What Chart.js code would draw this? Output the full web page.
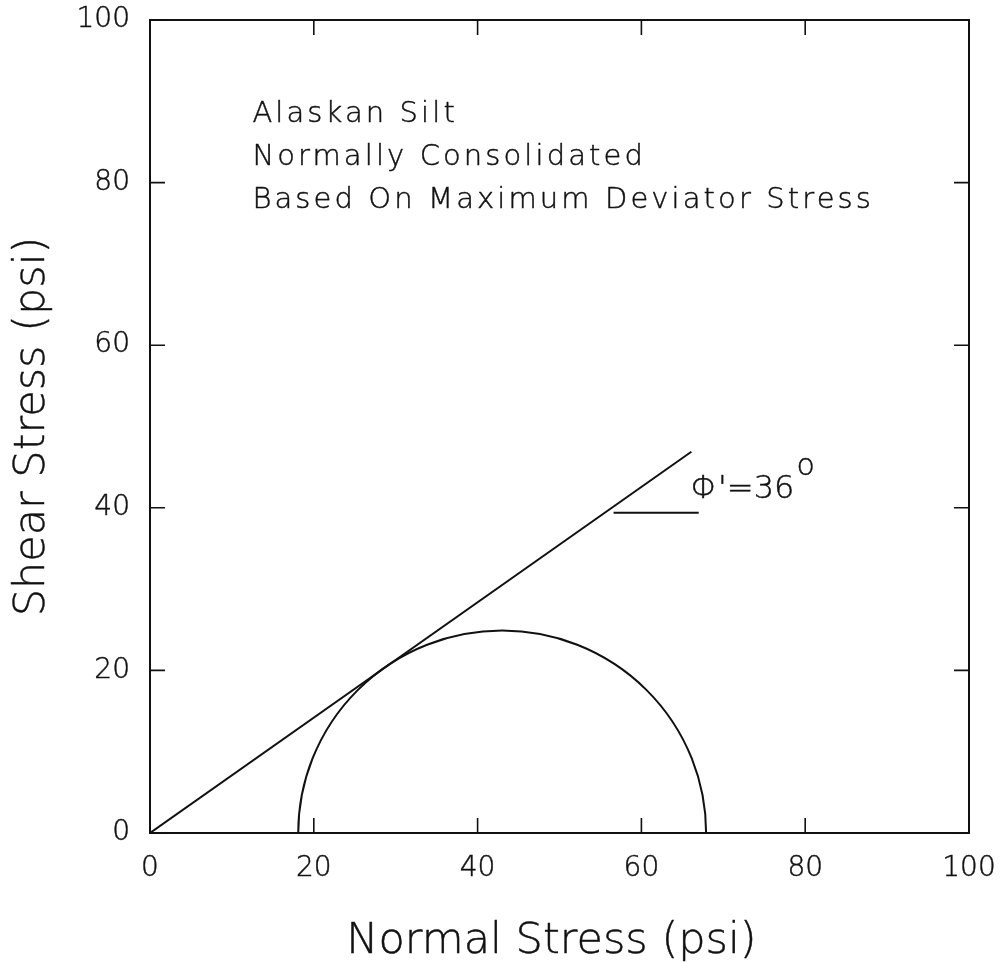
<!DOCTYPE html>
<html>
<head>
<meta charset="utf-8">
<script src="https://cdn.jsdelivr.net/npm/chart.js@4.4.1/dist/chart.umd.min.js"></script>
<style>
  html, body { margin: 0; padding: 0; background: #ffffff; }
  #wrap { width: 1005px; height: 962px; }
</style>
</head>
<body>
<div id="wrap"><canvas id="c" width="1005" height="962"></canvas></div>
<script>
// Mohr-Coulomb failure envelope, Alaskan silt (normally consolidated)
const xTicks = [0, 20, 40, 60, 80, 100];
const yTicks = [0, 20, 40, 60, 80, 100];

// effective stresses at maximum deviator stress (psi)
const sigma3 = 18.1;
const sigma1 = 67.9;

// failure envelope through the origin, drawn to its end point
const envelopeX = [0, 66.1];
const envelopeY = [0, 46.9];

// horizontal reference for the friction angle
const angleMarkX = [56.6, 67.0];
const angleMarkY = [39.4, 39.4];

const notes = ['Alaskan Silt', 'Normally Consolidated', 'Based On Maximum Deviator Stress'];
const noteX = 12.5;
const noteY = [87.5, 82.2, 76.9];

const angleLabel = "\u03A6'=36";
const angleLabelPos = [66.0, 41.2];

const xTitle = 'Normal Stress (psi)';
const yTitle = 'Shear Stress (psi)';

const FONT = '"DejaVu Sans", "Liberation Sans", sans-serif';
const INK = '#111111';
const TEXT_STROKE = 0.45;

const toPoints = (xs, ys) => xs.map((x, i) => ({ x: x, y: ys[i] }));

// filled text with a hairline stroke to give the light face a pen-like weight
function penText(ctx, text, x, y) {
  ctx.strokeText(text, x, y);
  ctx.fillText(text, x, y);
}

// frame, inward ticks, Mohr circle, annotations and axis titles
const decorations = {
  id: 'decorations',
  afterDatasetsDraw(chart) {
    const ctx = chart.ctx;
    const xs = chart.scales.x;
    const ys = chart.scales.y;
    const a = chart.chartArea;

    ctx.save();
    ctx.strokeStyle = INK;
    ctx.fillStyle = INK;

    // Mohr circle (upper half) from sigma3 / sigma1
    const cx = xs.getPixelForValue((sigma1 + sigma3) / 2);
    const cy = ys.getPixelForValue(0);
    const rx = xs.getPixelForValue(sigma1) - cx;
    const ry = cy - ys.getPixelForValue((sigma1 - sigma3) / 2);
    ctx.lineWidth = 2;
    ctx.beginPath();
    ctx.ellipse(cx, cy, rx, ry, 0, Math.PI, 2 * Math.PI);
    ctx.stroke();

    // frame
    ctx.lineWidth = 2;
    ctx.strokeRect(a.left, a.top, a.right - a.left, a.bottom - a.top);

    // inward ticks on all four sides
    const tl = 15;
    ctx.lineWidth = 1.6;
    ctx.beginPath();
    xTicks.forEach(v => {
      const px = xs.getPixelForValue(v);
      ctx.moveTo(px, a.bottom); ctx.lineTo(px, a.bottom - tl);
      ctx.moveTo(px, a.top); ctx.lineTo(px, a.top + tl);
    });
    yTicks.forEach(v => {
      const py = ys.getPixelForValue(v);
      ctx.moveTo(a.left, py); ctx.lineTo(a.left + tl, py);
      ctx.moveTo(a.right, py); ctx.lineTo(a.right - tl, py);
    });
    ctx.stroke();

    ctx.lineWidth = TEXT_STROKE;
    ctx.lineJoin = 'round';

    // notes
    ctx.font = '200 29px ' + FONT;
    ctx.letterSpacing = '3.1px';
    ctx.textAlign = 'left';
    ctx.textBaseline = 'alphabetic';
    notes.forEach((t, i) => {
      penText(ctx, t, xs.getPixelForValue(noteX), ys.getPixelForValue(noteY[i]));
    });

    // friction angle label with degree sign
    ctx.font = '200 32px ' + FONT;
    ctx.letterSpacing = '0px';
    const lx = xs.getPixelForValue(angleLabelPos[0]);
    const ly = ys.getPixelForValue(angleLabelPos[1]);
    penText(ctx, angleLabel, lx, ly);
    const w = ctx.measureText(angleLabel).width;
    ctx.font = '200 30px ' + FONT;
    penText(ctx, 'o', lx + w + 2, ly - 23);

    // axis titles
    ctx.font = '200 43px ' + FONT;
    ctx.textAlign = 'center';
    penText(ctx, xTitle, (a.left + a.right) / 2 - 8, 953);
    ctx.translate(44, (a.top + a.bottom) / 2);
    ctx.rotate(-Math.PI / 2);
    penText(ctx, yTitle, 0, 0);
    ctx.restore();
  }
};

new Chart(document.getElementById('c'), {
  type: 'scatter',
  data: {
    datasets: [
      {
        label: 'Failure envelope',
        data: toPoints(envelopeX, envelopeY),
        showLine: true,
        borderColor: INK,
        borderWidth: 2,
        pointRadius: 0,
        fill: false
      },
      {
        label: 'Angle reference',
        data: toPoints(angleMarkX, angleMarkY),
        showLine: true,
        borderColor: INK,
        borderWidth: 2,
        pointRadius: 0,
        fill: false
      }
    ]
  },
  options: {
    responsive: false,
    animation: false,
    devicePixelRatio: 1,
    layout: { padding: { top: 20, right: 36, left: 0, bottom: 0 } },
    plugins: { legend: { display: false }, tooltip: { enabled: false } },
    scales: {
      x: {
        type: 'linear',
        min: 0, max: 100,
        afterBuildTicks: s => { s.ticks = xTicks.map(v => ({ value: v })); },
        afterFit: s => { s.height = 129; s.paddingLeft = 0; s.paddingRight = 0; },
        grid: { display: false, drawTicks: false },
        border: { display: false },
        ticks: {
          padding: 19,
          color: INK,
          textStrokeColor: INK,
          textStrokeWidth: TEXT_STROKE,
          font: { family: FONT, size: 28, weight: 200 }
        }
      },
      y: {
        type: 'linear',
        min: 0, max: 100,
        afterBuildTicks: s => { s.ticks = yTicks.map(v => ({ value: v })); },
        afterFit: s => { s.width = 150; s.paddingTop = 0; s.paddingBottom = 0; },
        grid: { display: false, drawTicks: false },
        border: { display: false },
        ticks: {
          padding: 20,
          color: INK,
          textStrokeColor: INK,
          textStrokeWidth: TEXT_STROKE,
          font: { family: FONT, size: 28, weight: 200 }
        }
      }
    }
  },
  plugins: [decorations]
});
</script>
</body>
</html>
